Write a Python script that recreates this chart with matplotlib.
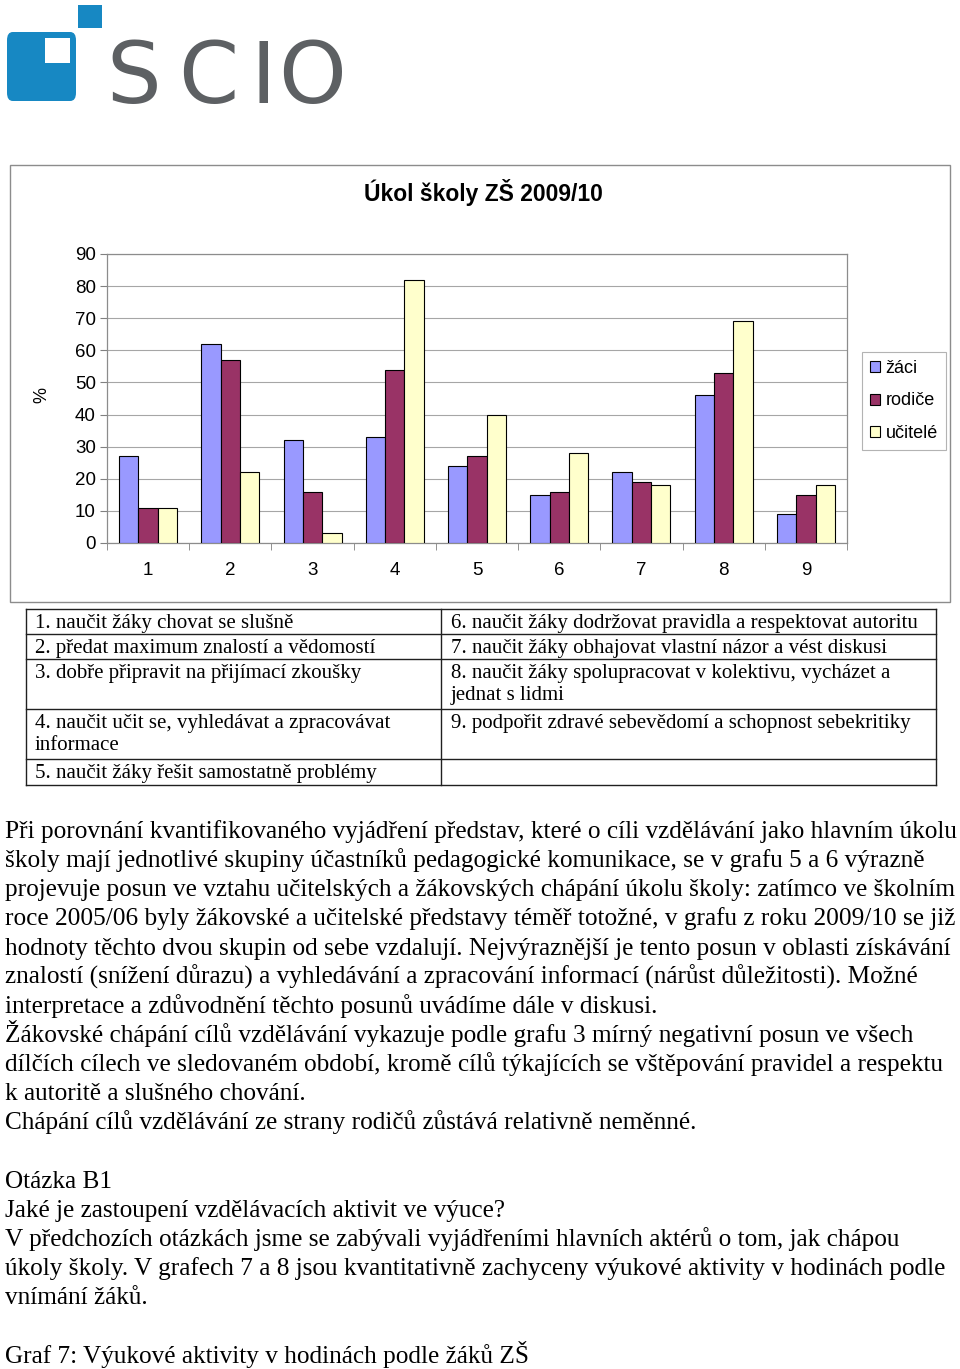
import matplotlib
matplotlib.use('Agg')
import matplotlib.pyplot as plt
import numpy as np
from matplotlib.patches import Rectangle, FancyBboxPatch

W, H = 960, 1369

# data
categories = ['1', '2', '3', '4', '5', '6', '7', '8', '9']
zaci = [27, 62, 32, 33, 24, 15, 22, 46, 9]
rodice = [11, 57, 16, 54, 27, 16, 19, 53, 15]
ucitele = [11, 22, 3, 82, 40, 28, 18, 69, 18]
series_names = ['žáci', 'rodiče', 'učitelé']
series_colors = ['#9999ff', '#993366', '#ffffcc']

table_left = ['1. naučit žáky chovat se slušně',
              '2. předat maximum znalostí a vědomostí',
              '3. dobře připravit na přijímací zkoušky',
              '4. naučit učit se, vyhledávat a zpracovávat\ninformace',
              '5. naučit žáky řešit samostatně problémy']
table_right = ['6. naučit žáky dodržovat pravidla a respektovat autoritu',
               '7. naučit žáky obhajovat vlastní názor a vést diskusi',
               '8. naučit žáky spolupracovat v kolektivu, vycházet a\njednat s lidmi',
               '9. podpořit zdravé sebevědomí a schopnost sebekritiky',
               '']

body_lines = [
    'Při porovnání kvantifikovaného vyjádření představ, které o cíli vzdělávání jako hlavním úkolu',
    'školy mají jednotlivé skupiny účastníků pedagogické komunikace, se v grafu 5 a 6 výrazně',
    'projevuje posun ve vztahu učitelských a žákovských chápání úkolu školy: zatímco ve školním',
    'roce 2005/06 byly žákovské a učitelské představy téměř totožné, v grafu z roku 2009/10 se již',
    'hodnoty těchto dvou skupin od sebe vzdalují. Nejvýraznější je tento posun v oblasti získávání',
    'znalostí (snížení důrazu) a vyhledávání a zpracování informací (nárůst důležitosti). Možné',
    'interpretace a zdůvodnění těchto posunů uvádíme dále v diskusi.',
    'Žákovské chápání cílů vzdělávání vykazuje podle grafu 3 mírný negativní posun ve všech',
    'dílčích cílech ve sledovaném období, kromě cílů týkajících se vštěpování pravidel a respektu',
    'k autoritě a slušného chování.',
    'Chápání cílů vzdělávání ze strany rodičů zůstává relativně neměnné.',
    '',
    'Otázka B1',
    'Jaké je zastoupení vzdělávacích aktivit ve výuce?',
    'V předchozích otázkách jsme se zabývali vyjádřeními hlavních aktérů o tom, jak chápou',
    'úkoly školy. V grafech 7 a 8 jsou kvantitativně zachyceny výukové aktivity v hodinách podle',
    'vnímání žáků.',
    '',
    'Graf 7: Výukové aktivity v hodinách podle žáků ZŠ',
]


def fx(x):
    return x / W


def fy(y):
    return 1 - y / H


fig = plt.figure(figsize=(W / 100, H / 100), dpi=100)

# logo
blue = '#1788c3'
grey = '#5d6063'
fig.patches.append(FancyBboxPatch((fx(7), fy(101)), fx(69), 69 / H,
                                  boxstyle='round,pad=0,rounding_size=0.006',
                                  transform=fig.transFigure, fc=blue, ec='none'))
fig.patches.append(Rectangle((fx(45), fy(63)), fx(25), 25 / H,
                             transform=fig.transFigure, fc='white', ec='none'))
fig.patches.append(Rectangle((fx(78), fy(28)), fx(24), 23 / H,
                             transform=fig.transFigure, fc=blue, ec='none'))
for letter, xc in zip('SCIO', [134, 208, 263, 312]):
    fig.text(fx(xc), fy(103), letter, ha='center', va='baseline',
             fontsize=62, color=grey, family='DejaVu Sans')

# chart frame
fig.patches.append(Rectangle((fx(10), fy(602)), fx(940), 437 / H,
                             transform=fig.transFigure, fc='none',
                             ec='#8c8c8c', lw=1))
fig.text(fx(483), fy(193), 'Úkol školy ZŠ 2009/10', ha='center', va='center',
         fontsize=16.5, fontweight='bold', family='Liberation Sans')

ax = fig.add_axes([fx(107), fy(543), fx(847 - 107), (543 - 254) / H])
x = np.arange(1, len(categories) + 1)
bw = 0.235
for k, (vals, c) in enumerate(zip([zaci, rodice, ucitele], series_colors)):
    ax.bar(x + (k - 1) * bw, vals, bw, color=c, edgecolor='black', lw=0.8,
           label=series_names[k], zorder=3)
ax.set_xlim(0.5, 9.5)
ax.set_ylim(0, 90)
ax.set_yticks(range(0, 91, 10))
ax.yaxis.grid(True, color='#a6a6a6', lw=0.8)
ax.set_axisbelow(True)
ax.set_xticks(x)
ax.set_xticklabels(categories)
ax.set_xticks(np.arange(0.5, 9.6, 1), minor=True)
ax.tick_params(axis='x', which='major', length=0, pad=14)
ax.tick_params(axis='x', which='minor', length=5, color='#808080', direction='out')
ax.tick_params(axis='y', length=5, color='#808080', pad=3)
for lab in ax.get_xticklabels() + ax.get_yticklabels():
    lab.set_fontsize(13.5)
    lab.set_family('Liberation Sans')
for s in ax.spines.values():
    s.set_color('#8c8c8c')
    s.set_linewidth(0.9)
fig.text(fx(42), fy(395), '%', rotation=90, ha='center', va='center',
         fontsize=13, family='Liberation Sans')
leg = ax.legend(loc='upper left', bbox_to_anchor=(fx(862), fy(352)),
                bbox_transform=fig.transFigure, handlelength=0.55,
                handleheight=0.55, handletextpad=0.3, labelspacing=0.85,
                borderpad=0.45, borderaxespad=0, fancybox=False,
                edgecolor='#a0a0a0',
                prop={'family': 'Liberation Sans', 'size': 13})
leg.get_frame().set_linewidth(0.8)

# legend table under the chart
rows_y = [609, 634, 659, 709, 759, 785]
tl, tm, tr = 26, 441, 936
for yy in rows_y:
    fig.add_artist(plt.Line2D([fx(tl), fx(tr)], [fy(yy), fy(yy)], color='#202020', lw=1))
for xx in (tl, tm, tr):
    fig.add_artist(plt.Line2D([fx(xx), fx(xx)], [fy(rows_y[0]), fy(rows_y[-1])],
                              color='#202020', lw=1))
for i in range(len(table_left)):
    for txt, xx in ((table_left[i], 35), (table_right[i], 451)):
        fig.text(fx(xx), fy(rows_y[i] + 5), txt, ha='left', va='top',
                 fontsize=15, family='Liberation Serif', linespacing=1.2)

# body text
y0 = 838
for i, line in enumerate(body_lines):
    fig.text(fx(5), fy(y0 + i * 29.15), line, ha='left', va='baseline',
             fontsize=18.2, family='Liberation Serif')

fig.savefig('out.png', dpi=100)
